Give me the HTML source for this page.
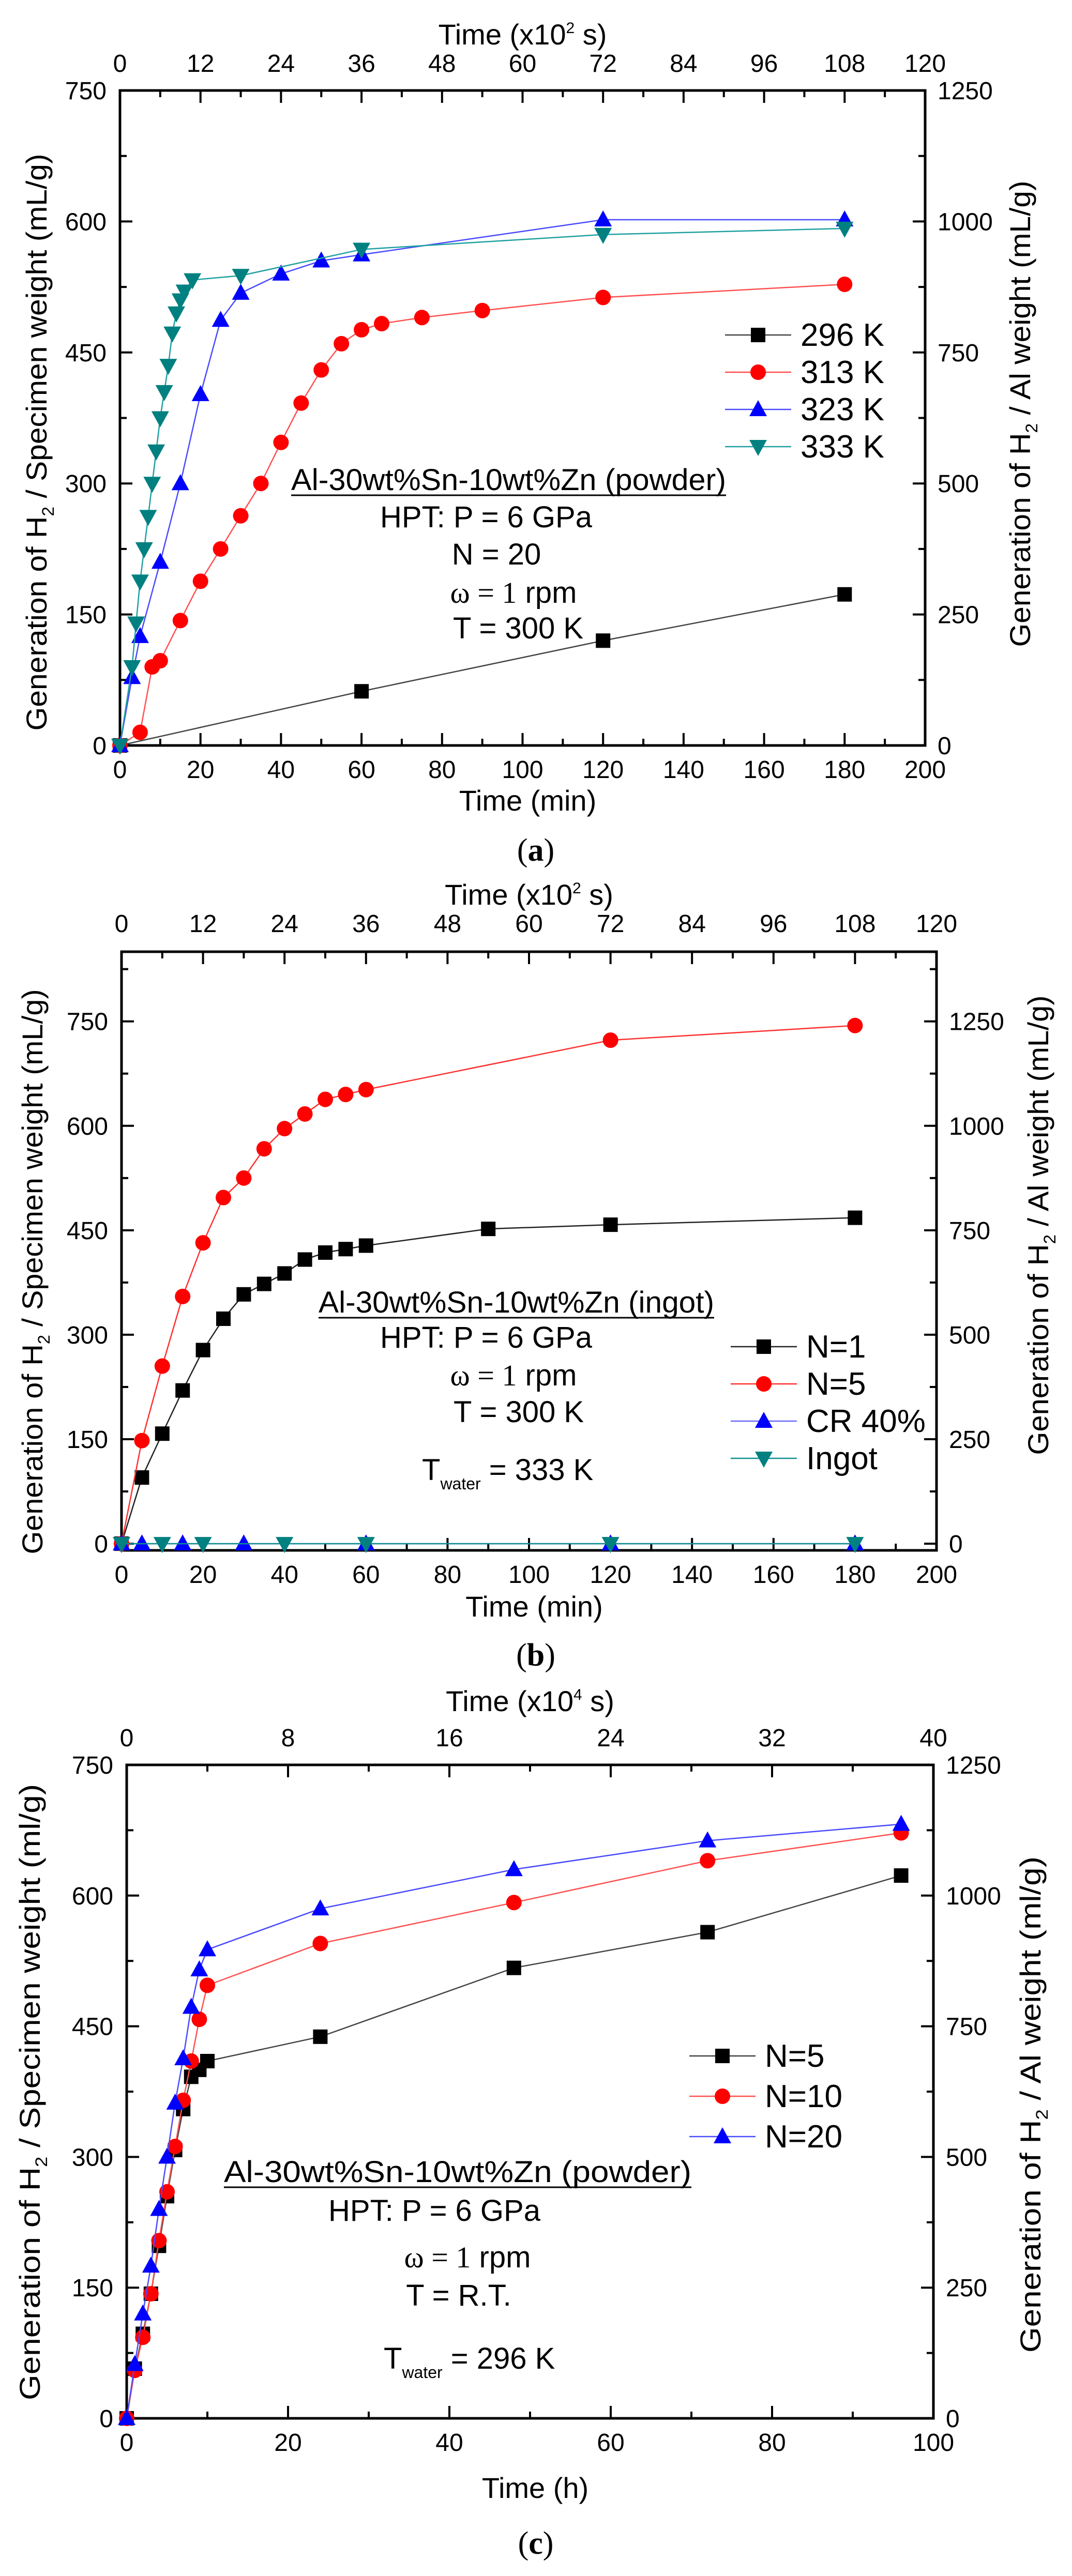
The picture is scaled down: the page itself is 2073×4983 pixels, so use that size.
<!DOCTYPE html>
<html><head><meta charset="utf-8"><style>
html,body{margin:0;padding:0;background:#fff}
svg{display:block;font-family:"Liberation Sans",Arial,sans-serif}
</style></head><body>
<svg id="fig" width="2073" height="4983" viewBox="0 0 2073 4983" xmlns="http://www.w3.org/2000/svg"></svg>
<script>
// ---- Panel (a) data: time (min), H2 (mL/g) ----
const aX296=[0,60,120,180];
const aY296=[0,62,120,173];
const aX313=[0,5,8,10,15,20,25,30,35,40,45,50,55,60,65,75,90,120,180];
const aY313=[0,15,90,97,143,188,225,263,300,347,392,430,460,476,483,490,498,513,528];
const aX323=[0,3,5,10,15,20,25,30,40,50,60,120,180];
const aY323=[0,78,125,210,300,402,487,518,540,555,562,602,602];
const aX333=[0,3,4,5,6,7,8,9,10,11,12,13,14,15,16,18,30,60,120,180];
const aY333=[0,90,140,188,225,262,300,337,375,405,435,472,495,510,520,533,538,568,585,592];
// ---- Panel (b) data ----
const bXN1=[0,5,10,15,20,25,30,35,40,45,50,55,60,90,120,180];
const bYN1=[0,95,158,220,278,323,358,373,388,408,418,423,428,452,458,468];
const bXN5=[0,5,10,15,20,25,30,35,40,45,50,55,60,120,180];
const bYN5=[0,148,255,355,432,497,525,567,596,617,638,645,652,723,744];
const bXCR=[0,5,15,30,60,120,180];
const bYCR=[0,0,0,0,0,0,0];
const bXIng=[0,10,20,40,60,120,180];
const bYIng=[0,0,0,0,0,0,0];
// ---- Panel (c) data: time (h) ----
const cX=[0,1,2,3,4,5,6,7,8,9,10,24,48,72,96];
const cYN5=[0,57,97,143,198,255,308,355,392,400,410,438,517,558,623];
const cYN10=[0,55,93,143,204,260,312,365,410,458,497,545,592,640,672];
const cYN20=[0,62,120,175,240,300,362,413,472,515,538,585,630,663,682];
// tick labels
const ticksMin=[0,20,40,60,80,100,120,140,160,180,200];
const ticksTopA=[0,12,24,36,48,60,72,84,96,108,120];
const ticksH=[0,20,40,60,80,100];
const ticksTopC=[0,8,16,24,32,40];
const ticksLeft=[0,150,300,450,600,750];
const ticksRight=[0,250,500,750,1000,1250];

const NS="http://www.w3.org/2000/svg";
const svg=document.getElementById('fig');
function el(tag,attrs,parent,text){
  const e=document.createElementNS(NS,tag);
  for(const k in attrs) e.setAttribute(k,attrs[k]);
  if(text!==undefined) e.textContent=text;
  (parent||svg).appendChild(e);return e;
}
function marker(g,shape,color,x,y){
  let m;
  if(shape==='sq'){m=el('rect',{x:x-14,y:y-14,width:28,height:28,fill:color},g);}
  else if(shape==='ci'){m=el('circle',{cx:x,cy:y,r:15,fill:color},g);}
  else if(shape==='up'){m=el('polygon',{points:`${x},${y-18} ${x-17},${y+13} ${x+17},${y+13}`,fill:color},g);}
  else {m=el('polygon',{points:`${x},${y+18} ${x-17},${y-13} ${x+17},${y-13}`,fill:color},g);}
  
  
}
function panel(P){
  const g=el('g',{});
  
  
  const sx=v=>P.L+(v-P.xmin)/(P.xmax-P.xmin)*(P.R-P.L);
  const sy=v=>P.B-(v-P.ymin)/(P.ymax-P.ymin)*(P.B-P.T);
  const tg=el('g',{stroke:'#000','stroke-width':4},g);
  
  
  for(let v=P.xmin;v<=P.xmax+1e-9;v+=P.xminor){
    const major=Math.abs(v/P.xmajor-Math.round(v/P.xmajor))<1e-6;
    const len=major?24:13;const x=sx(v);
    el('line',{x1:x,y1:P.B,x2:x,y2:P.B-len},tg);
    el('line',{x1:x,y1:P.T,x2:x,y2:P.T+len},tg);
  }
  for(let v=0;v<=P.ymax+1e-9;v+=75){
    const major=v%150===0;const len=major?24:13;const y=sy(v);
    if(y<P.T-1) continue;
    el('line',{x1:P.L,y1:y,x2:P.L+len,y2:y},tg);
    el('line',{x1:P.R,y1:y,x2:P.R-len,y2:y},tg);
  }
  const fr=el('rect',{x:P.L,y:P.T,width:P.R-P.L,height:P.B-P.T,fill:'none',stroke:'#000','stroke-width':5},g);
  
  
  P.xt.forEach(v=>{const t=el('text',{x:sx(v),y:P.B+63,'font-size':48,'text-anchor':'middle'},g,String(v));
    });
  P.tt.forEach((v,i)=>{const t=el('text',{x:sx(P.xmin+i*P.xmajor),y:P.T-P.topOff,'font-size':48,'text-anchor':'middle'},g,String(v));
    });
  ticksLeft.forEach(v=>{const t=el('text',{x:P.L-26,y:sy(v)+17,'font-size':48,'text-anchor':'end'},g,String(v));
    });
  ticksRight.forEach((v,i)=>{const t=el('text',{x:P.R+24,y:sy(ticksLeft[i])+17,'font-size':48,'text-anchor':'start'},g,String(v));
    });
  let t=el('text',{x:(P.L+P.R)/2+10,y:P.xtY,'font-size':56,'text-anchor':'middle'},g,P.xtitle);
  
  t=el('text',{x:(P.L+P.R)/2,y:P.ttY,'font-size':56,'text-anchor':'middle'},g);
  
  el('tspan',{},t,'Time (x10');el('tspan',{'font-size':30,dy:-22},t,P.exp);el('tspan',{dy:22},t,' s)');
  const cy=(P.T+P.B)/2;
  t=el('text',{transform:`translate(${P.lx},${cy+P.lOff}) rotate(-90)`,'font-size':56,'text-anchor':'middle',textLength:P.lLen,lengthAdjust:'spacingAndGlyphs'},g);
  
  el('tspan',{},t,'Generation of H');el('tspan',{'font-size':32,dy:14},t,'2');el('tspan',{dy:-14},t,' / Specimen weight ('+P.unit+')');
  t=el('text',{transform:`translate(${P.rx},${cy+P.rOff}) rotate(-90)`,'font-size':56,'text-anchor':'middle',textLength:P.rLen,lengthAdjust:'spacingAndGlyphs'},g);
  
  el('tspan',{},t,'Generation of H');el('tspan',{'font-size':32,dy:14},t,'2');el('tspan',{dy:-14},t,' / Al weight ('+P.unit+')');
  t=el('text',{x:1036,y:P.capY,'font-size':62,'text-anchor':'middle','font-family':'Liberation Serif, serif'},g);
  
  el('tspan',{},t,'(');el('tspan',{'font-weight':'bold'},t,P.cap);el('tspan',{},t,')');
  P.series.forEach(s=>{
    const sg=el('g',{},g);
    
    
    const pts=s.x.map((v,i)=>sx(v)+','+sy(s.y[i])).join(' ');
    el('polyline',{points:pts,fill:'none',stroke:s.line,'stroke-width':2.5},sg);
    s.x.forEach((v,i)=>marker(sg,s.shape,s.color,sx(v),sy(s.y[i])));
  });
  const lg=el('g',{},g);
  
  
  P.series.forEach((s,i)=>{
    const y=P.legY+i*P.legDy;
    const eg=el('g',{},lg);
    
    
    el('line',{x1:P.legX-64,y1:y,x2:P.legX+64,y2:y,stroke:s.line,'stroke-width':2.5},eg);
    marker(eg,s.shape,s.color,P.legX,y);
    el('text',{x:P.legX+82,y:y+21,'font-size':62},eg,s.label);
  });
  const ag=el('g',{'font-size':58,'text-anchor':'middle'},g);
  
  
  const A=P.ann;
  el('text',{x:(A.t0+A.t1)/2,y:A.ty+20,textLength:A.t1-A.t0,lengthAdjust:'spacingAndGlyphs'},ag,A.title);
  el('line',{x1:A.t0,y1:A.ty+30,x2:A.t1,y2:A.ty+30,stroke:'#000','stroke-width':3},ag);
  A.lines.forEach(l=>{
    if(l.omega){const tt=el('text',{x:l.x,y:l.y+20},ag);
      el('tspan',{'font-family':'Liberation Serif, serif'},tt,'ω = 1');el('tspan',{},tt,' rpm');}
    else if(l.tw){const tt=el('text',{x:l.x,y:l.y+20,'text-anchor':'start'},ag);
      el('tspan',{},tt,'T');el('tspan',{'font-size':32,dy:18},tt,'water');el('tspan',{dy:-18},tt,' = '+l.tw);}
    else el('text',{x:l.x,y:l.y+20},ag,l.s);
  });
}
panel({name:'panel-a',L:232,R:1789,T:175,B:1442,xmin:0,xmax:200,ymin:0,ymax:750,xmajor:20,xminor:10,
  xt:ticksMin,tt:ticksTopA,topOff:36,xtitle:'Time (min)',xtY:1568,ttY:86,exp:'2',unit:'mL/g',lx:90,rx:1992,capY:1665,cap:'a',
  lLen:1116,lOff:47,rLen:902,rOff:-8,
  legX:1466,legY:648,legDy:72,
  series:[{label:'296 K',x:aX296,y:aY296,shape:'sq',color:'#000',line:'#444'},
          {label:'313 K',x:aX313,y:aY313,shape:'ci',color:'#ff0000',line:'#ff5050'},
          {label:'323 K',x:aX323,y:aY323,shape:'up',color:'#0000ff',line:'#4a4aff'},
          {label:'333 K',x:aX333,y:aY333,shape:'dn',color:'#008080',line:'#20a0a0'}],
  ann:{title:'Al-30wt%Sn-10wt%Zn (powder)',t0:563,t1:1404,ty:928,lines:[{s:'HPT: P = 6 GPa',x:940,y:1000},{s:'N = 20',x:960,y:1072},{omega:1,x:993,y:1146},{s:'T = 300 K',x:1002,y:1215}]}
});
panel({name:'panel-b',L:235,R:1811,T:1841,B:2999,xmin:0,xmax:200,ymin:-9.6,ymax:850,xmajor:20,xminor:10,
  xt:ticksMin,tt:ticksTopA,topOff:38,xtitle:'Time (min)',xtY:3127,ttY:1750,exp:'2',unit:'mL/g',lx:82,rx:2027,capY:3222,cap:'b',
  lLen:1093,lOff:40,rLen:889,rOff:-50,
  legX:1477,legY:2605,legDy:72,
  series:[{label:'N=1',x:bXN1,y:bYN1,shape:'sq',color:'#000',line:'#222'},
          {label:'N=5',x:bXN5,y:bYN5,shape:'ci',color:'#ff0000',line:'#ff3030'},
          {label:'CR 40%',x:bXCR,y:bYCR,shape:'up',color:'#0000ff',line:'#6a6aff'},
          {label:'Ingot',x:bXIng,y:bYIng,shape:'dn',color:'#008080',line:'#108f8f'}],
  ann:{title:'Al-30wt%Sn-10wt%Zn (ingot)',t0:616,t1:1381,ty:2519,lines:[{s:'HPT: P = 6 GPa',x:940,y:2587},{omega:1,x:993,y:2660},{s:'T = 300 K',x:1003,y:2731},{tw:'333 K',x:816,y:2843}]}
});
panel({name:'panel-c',L:245,R:1805,T:3414,B:4678,xmin:0,xmax:100,ymin:0,ymax:750,xmajor:20,xminor:10,
  xt:ticksH,tt:ticksTopC,topOff:36,xtitle:'Time (h)',xtY:4832,ttY:3310,exp:'4',unit:'ml/g',lx:77,rx:2012,capY:4940,cap:'c',
  lLen:1192,lOff:1,rLen:960,rOff:25,
  legX:1397,legY:3977,legDy:78,
  series:[{label:'N=5',x:cX,y:cYN5,shape:'sq',color:'#000',line:'#444'},
          {label:'N=10',x:cX,y:cYN10,shape:'ci',color:'#ff0000',line:'#ff5050'},
          {label:'N=20',x:cX,y:cYN20,shape:'up',color:'#0000ff',line:'#4a4aff'}],
  ann:{title:'Al-30wt%Sn-10wt%Zn (powder)',t0:433,t1:1337,ty:4201,lines:[{s:'HPT: P = 6 GPa',x:840,y:4276},{omega:1,x:904,y:4366},{s:'T = R.T.',x:887,y:4440},{tw:'296 K',x:742,y:4562}]}
});
</script>
</body></html>
